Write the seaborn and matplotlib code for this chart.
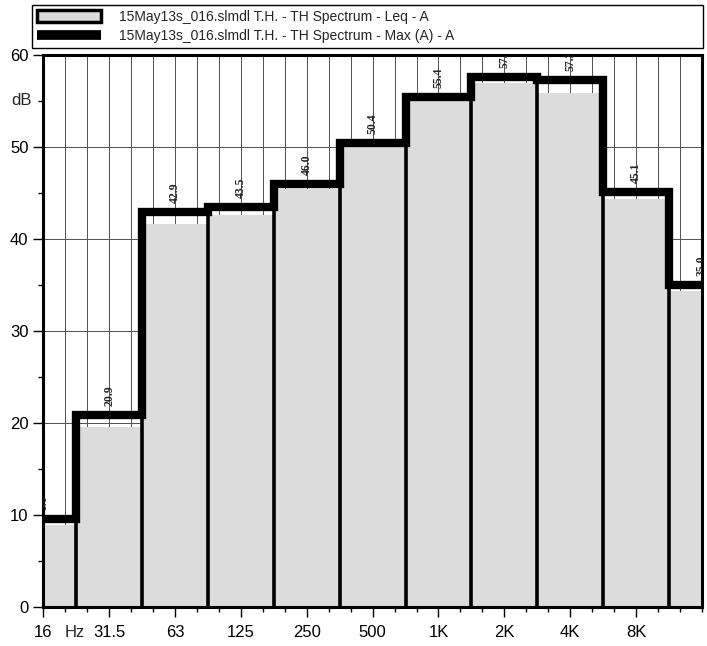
import numpy as np
import matplotlib
matplotlib.use("Agg")
import matplotlib.pyplot as plt
from matplotlib.patches import Patch
from matplotlib.lines import Line2D
from matplotlib.ticker import MultipleLocator
import seaborn as sns

# octave band spectrum (dB, A-weighted)
bands = ["16", "31.5", "63", "125", "250", "500", "1K", "2K", "4K", "8K", "16K"]
leq = [8.9, 19.6, 41.6, 42.6, 45.4, 50.1, 55.0, 56.9, 55.9, 44.4, 34.3]
lmax = [9.6, 20.9, 42.9, 43.5, 46.0, 50.4, 55.4, 57.6, 57.3, 45.1, 35.0]
leq_name = "15May13s_016.slmdl T.H. - TH Spectrum - Leq - A"
max_name = "15May13s_016.slmdl T.H. - TH Spectrum - Max (A) - A"

sns.set_style("ticks")
plt.rcParams["font.family"] = ["Liberation Sans", "DejaVu Sans"]

fill = "#dcdcdc"
pos = np.arange(len(bands))

fig = plt.figure(figsize=(7.07, 6.46), dpi=100)
ax = fig.add_axes([0.061, 0.060, 0.932, 0.855])

# Leq bars
sns.barplot(x=pos, y=leq, native_scale=True, width=1.0, color=fill,
            saturation=1, linewidth=0, edgecolor="none", ax=ax, zorder=2)

# black dividers between bars
edges = pos[:-1] + 0.5
tops = [min(a, b) for a, b in zip(lmax[:-1], lmax[1:])]
ax.vlines(edges, 0, tops, color="black", lw=2.6, zorder=3)

# Max step line
ax.plot(pos, lmax, drawstyle="steps-mid", color="black", lw=6,
        solid_joinstyle="miter", zorder=4)

# value labels above the max line
for x, v in zip(pos, lmax):
    ax.annotate(f"{v:.1f}", (x, v), xytext=(0, 6.5), textcoords="offset points",
                rotation=90, ha="center", va="bottom", fontsize=8.5,
                fontweight="bold", family=["Liberation Serif", "DejaVu Serif"],
                clip_on=True, zorder=5)

ax.set_xlim(0, 10)
ax.set_ylim(0, 60)

# axes / ticks / grid
ax.set_xticks(pos[:-1])
ax.set_xticklabels(bands[:-1])
ax.xaxis.set_minor_locator(MultipleLocator(1 / 3))
ax.set_yticks(np.arange(0, 61, 10))
ax.yaxis.set_minor_locator(MultipleLocator(5))
ax.tick_params(which="major", direction="out", length=7, width=1,
               labelsize=12, color="black", labelcolor="black")
ax.tick_params(axis="x", which="major", pad=6)
ax.tick_params(which="minor", direction="out", length=3.5, width=1, color="black")
ax.grid(axis="x", which="both", color="#505050", lw=0.7)
ax.grid(axis="y", which="major", color="#505050", lw=0.7)
ax.set_axisbelow(True)
for s in ax.spines.values():
    s.set_visible(True)
    s.set_color("black")
    s.set_linewidth(2.2)

ax.text(0.48, -0.032, "Hz", transform=ax.get_xaxis_transform(),
        ha="center", va="top", fontsize=12)
ax.text(-0.017, 55, "dB", transform=ax.get_yaxis_transform(),
        ha="right", va="center", fontsize=12)

handles = [Patch(facecolor=fill, edgecolor="black", lw=2.5),
           Line2D([], [], color="black", lw=7, solid_capstyle="butt")]
leg = fig.legend(handles, [leq_name, max_name], loc="upper left",
                 bbox_to_anchor=(0.045, 0.93, 0.949, 0.062), mode="expand",
                 fontsize=10, frameon=True, fancybox=False, edgecolor="black",
                 framealpha=1, handlelength=4.6, handleheight=0.9,
                 handletextpad=1.3, labelspacing=0.35, borderpad=0.35,
                 borderaxespad=0)
leg.get_frame().set_linewidth(1)

fig.savefig("out.png", dpi=100)
